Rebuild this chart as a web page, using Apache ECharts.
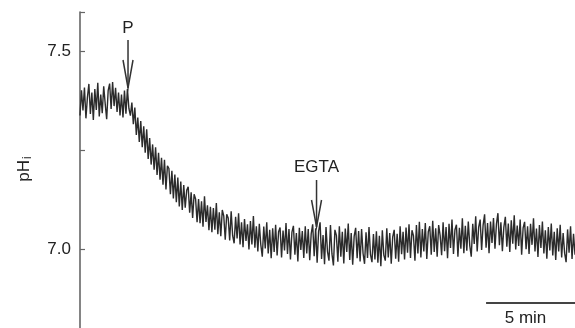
<!DOCTYPE html>
<html>
<head>
<meta charset="utf-8">
<script src="https://cdn.jsdelivr.net/npm/echarts@6/dist/echarts.min.js"></script>
<style>
  html, body { margin: 0; padding: 0; background: #fff; }
  #chart { width: 575px; height: 328px; }
</style>
</head>
<body>
<div id="chart"></div>
<script>
// pHi trace, one reading every 5 s
var sampleSec = 5;
var phi = [
  7.338, 7.402, 7.351, 7.409, 7.331, 7.384, 7.418, 7.342, 7.396, 7.327,
  7.405, 7.352, 7.421, 7.336, 7.391, 7.344, 7.412, 7.368, 7.329, 7.401,
  7.419, 7.355, 7.423, 7.362, 7.408, 7.347, 7.396, 7.338, 7.391, 7.333,
  7.401, 7.343, 7.405, 7.356, 7.338, 7.371, 7.316, 7.358, 7.289, 7.333,
  7.271, 7.324, 7.258, 7.311, 7.244, 7.303, 7.228, 7.281, 7.214, 7.265,
  7.201, 7.258, 7.188, 7.244, 7.176, 7.231, 7.163, 7.226, 7.151, 7.211,
  7.204, 7.139, 7.198, 7.128, 7.189, 7.119, 7.181, 7.108, 7.171, 7.099,
  7.162, 7.105, 7.149, 7.158, 7.092, 7.144, 7.079, 7.139, 7.127, 7.068,
  7.127, 7.066, 7.121, 7.057, 7.134, 7.069, 7.111, 7.048, 7.107, 7.043,
  7.104, 7.049, 7.117, 7.038, 7.093, 7.033, 7.099, 7.084, 7.024, 7.088,
  7.079, 7.022, 7.096, 7.034, 7.015, 7.082, 7.027, 7.091, 7.012, 7.068,
  7.005, 7.076, 7.021, 7.063, 6.999, 7.071, 7.012, 7.084, 7.004, 7.058,
  6.994, 7.064, 7.011, 6.981, 7.057, 7.002, 7.068, 6.989, 7.049, 6.977,
  7.053, 6.993, 7.062, 6.984, 7.044, 7.055, 6.979, 7.047, 6.997, 7.066,
  6.988, 7.051, 6.974, 7.043, 7.059, 6.986, 7.041, 6.969, 7.054, 6.998,
  7.046, 6.978, 7.058, 6.989, 7.051, 6.972, 7.039, 7.063, 6.982, 7.053,
  6.966, 7.045, 7.068, 6.975, 7.036, 6.962, 7.056, 6.994, 6.971, 7.061,
  6.988, 6.959, 7.049, 7.035, 6.968, 7.058, 6.981, 7.044, 6.964, 7.052,
  6.993, 7.065, 6.973, 7.041, 6.961, 7.033, 7.054, 6.977, 7.046, 6.969,
  7.051, 6.989, 6.963, 7.043, 6.978, 7.056, 6.986, 6.967, 7.038, 6.974,
  7.045, 6.966, 7.034, 6.957, 7.048, 6.985, 6.971, 7.053, 6.979, 7.041,
  6.963, 7.031, 7.049, 6.976, 7.039, 6.968, 7.058, 6.987, 7.044, 6.974,
  7.055, 6.991, 7.063, 6.978, 7.048, 7.034, 6.971, 7.061, 6.989, 7.069,
  6.979, 7.051, 6.994, 7.066, 6.975, 7.044, 7.058, 6.986, 7.072, 6.993,
  7.053, 6.981, 7.061, 7.035, 6.985, 7.068, 6.995, 7.056, 6.977, 7.064,
  7.003, 7.075, 6.988, 7.049, 7.062, 6.981, 7.054, 7.001, 7.078, 6.990,
  7.059, 6.996, 7.070, 7.009, 6.981, 7.064, 7.013, 7.083, 6.994, 7.056,
  7.075, 6.998, 7.061, 7.088, 7.004, 7.066, 6.990, 7.070, 7.016, 7.079,
  7.001, 7.064, 7.091, 7.010, 7.068, 6.995, 7.056, 7.082, 7.006, 7.065,
  6.993, 7.073, 7.014, 7.086, 6.999, 7.060, 7.008, 7.075, 6.986, 7.054,
  7.069, 7.000, 7.058, 6.988, 7.064, 7.011, 7.078, 6.994, 7.052, 6.980,
  7.061, 7.003, 7.070, 6.989, 7.048, 6.976, 7.056, 6.997, 7.065, 6.984,
  7.044, 6.973, 7.053, 6.994, 7.062, 6.979, 7.041, 6.990, 6.967, 7.050,
  6.991, 7.058, 6.975, 7.039, 6.986
];
var yLabels = [7.0, 7.5];          // labelled ticks
var eventNames = ['P', 'EGTA'];    // additions
var eventTimes = [2.7, 13.3];      // min
var scaleBarMin = 5;

var fontFam = '"Liberation Sans", Arial, Helvetica, sans-serif';

// [min, pH] pairs
var traceData = [];
for (var i = 0; i < phi.length; i++) {
  traceData.push([i * sampleSec / 60, phi[i]]);
}
var tEnd = (phi.length - 1) * sampleSec / 60;

var option = {
  animation: false,
  // axis runs past the bottom edge, like the figure
  grid: { left: 80, right: 0, top: 12, height: 336, outerBoundsMode: 'none', containLabel: false },
  xAxis: { type: 'value', min: 0, max: tEnd, show: false },
  yAxis: {
    type: 'value',
    min: 6.75,
    max: 7.6,
    interval: 0.25,
    axisLine: { show: true, lineStyle: { color: '#666', width: 1.6 } },
    axisTick: { show: true, inside: true, length: 5, lineStyle: { color: '#666', width: 1.2 } },
    axisLabel: {
      margin: 9,
      fontSize: 17,
      fontFamily: fontFam,
      color: '#222',
      formatter: function (v) {
        for (var k = 0; k < yLabels.length; k++) {
          if (Math.abs(v - yLabels[k]) < 1e-6) return yLabels[k].toFixed(1);
        }
        return '';
      }
    },
    splitLine: { show: false }
  },
  series: [{
    type: 'line',
    data: traceData,
    showSymbol: false,
    symbol: 'none',
    lineStyle: { color: '#2b2b2b', width: 1.4 },
    clip: true
  }]
};

var chart = echarts.init(document.getElementById('chart'));
chart.setOption(option);

// annotations: arrows, y name, scale bar
var g = [];
var arrowTop = [40, 180], arrowTip = [88, 227], headLen = [28, 27], textY = [28, 167];
for (var e = 0; e < eventNames.length; e++) {
  var px = chart.convertToPixel({ gridIndex: 0 }, [eventTimes[e], 7])[0];
  g.push({ type: 'line', shape: { x1: px, y1: arrowTop[e], x2: px, y2: arrowTip[e] },
    style: { stroke: '#333', lineWidth: 1.5 } });
  g.push({ type: 'polyline', shape: { points: [[px - 5, arrowTip[e] - headLen[e]], [px, arrowTip[e]], [px + 5, arrowTip[e] - headLen[e]]] },
    style: { stroke: '#333', lineWidth: 1.5, fill: null } });
  g.push({ type: 'text', x: px, y: textY[e],
    style: { text: eventNames[e], font: '17px ' + fontFam, fill: '#222', align: 'center', verticalAlign: 'middle' } });
}
var barX0 = chart.convertToPixel({ gridIndex: 0 }, [tEnd - scaleBarMin, 7])[0];
var barX1 = chart.convertToPixel({ gridIndex: 0 }, [tEnd, 7])[0];
g.push({ type: 'line', shape: { x1: barX0, y1: 303, x2: barX1, y2: 303 },
  style: { stroke: '#444', lineWidth: 2 } });
g.push({ type: 'text', x: (barX0 + barX1) / 2 - 5, y: 318,
  style: { text: scaleBarMin + ' min', font: '17px ' + fontFam, fill: '#222', align: 'center', verticalAlign: 'middle' } });
// pHi, rotated
g.push({
  type: 'group', x: 24, y: 168, rotation: Math.PI / 2,
  children: [
    { type: 'text', x: 8, y: 0, style: { text: 'pH', font: '17px ' + fontFam, fill: '#222', align: 'right', verticalAlign: 'middle' } },
    { type: 'text', x: 9, y: 4, style: { text: 'i', font: '12px ' + fontFam, fill: '#222', align: 'left', verticalAlign: 'middle' } }
  ]
});
chart.setOption({ graphic: g });
</script>
</body>
</html>
